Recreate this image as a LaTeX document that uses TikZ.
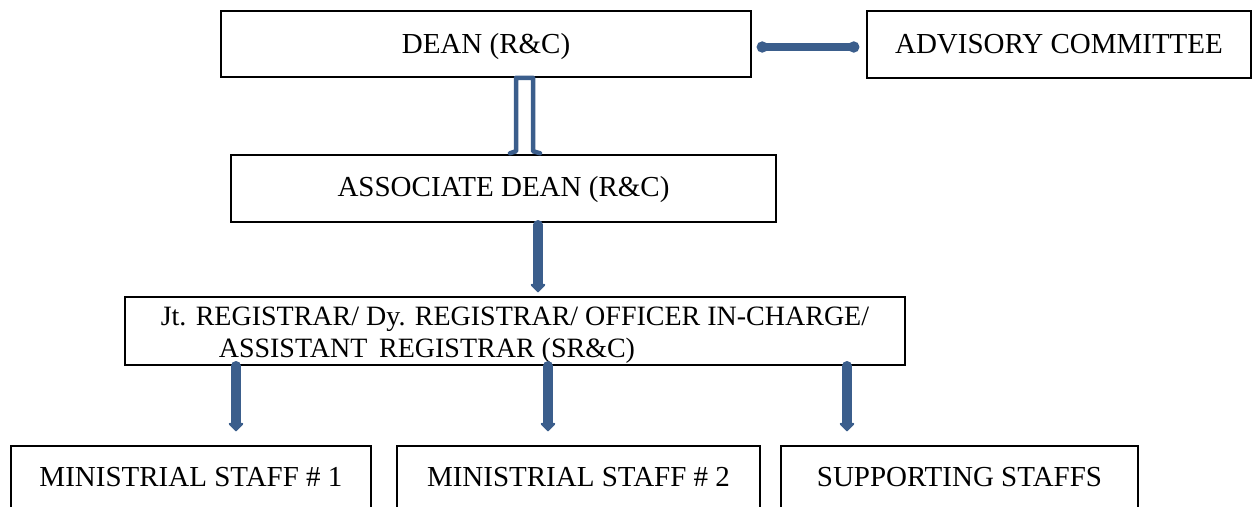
\documentclass[tikz,border=0pt]{standalone}
\usepackage{fontspec}
\setmainfont{Liberation Serif}
\usetikzlibrary{arrows.meta,calc}
\definecolor{arrowblue}{HTML}{3B5E8C}
\newcommand{\lowerby}[2]{\raisebox{-#1}[\height][\depth]{#2}}
\begin{document}
\begin{tikzpicture}[x=1pt,y=-1pt,
  box/.style={draw=black, line width=1.5pt, inner sep=0pt, font=\fontsize{29}{34}\selectfont},
  conn/.style={draw=arrowblue, line width=9.5pt, line cap=round, -{Triangle[width=17pt,length=9pt,round]}},
  biconn/.style={draw=arrowblue, line width=8pt, {Circle[length=11pt]}-{Circle[length=11pt]}},
  hollow/.style={draw=arrowblue, line width=4.5pt, line join=round, line cap=round}]
\useasboundingbox (0,0) rectangle (1252,506);
\node[box, minimum width=530pt, minimum height=66pt] (dean) at (486,44) {\lowerby{3pt}{DEAN (R\&C)}};
\node[box, minimum width=384pt, minimum height=67pt] (adv) at (1059,44.5) {ADVISORY COMMITTEE};
\node[box, minimum width=545pt, minimum height=67pt] (assoc) at (503.5,188.5) {\lowerby{1pt}{ASSOCIATE DEAN (R\&C)}};
\node[box, minimum width=780pt, minimum height=68pt, align=left, font=\fontsize{28}{32}\selectfont] (reg) at (515,331)
  {\lowerby{4pt}{Jt. REGISTRAR/ Dy. REGISTRAR/ OFFICER IN-CHARGE/}\\\hspace*{58pt}\lowerby{4pt}{ASSISTANT\, REGISTRAR (SR\&C)}};
\node[box, minimum width=360pt, minimum height=62pt] (ms1) at (191,477) {MINISTRIAL STAFF \# 1};
\node[box, minimum width=363pt, minimum height=62pt] (ms2) at (578.5,477) {MINISTRIAL STAFF \# 2};
\node[box, minimum width=357pt, minimum height=62pt] (sup) at (959.5,477) {SUPPORTING STAFFS};
% double-headed connector
\draw[biconn, shorten <=5pt, shorten >=7pt] (dean.east |- 0,47) -- (adv.west |- 0,47);
% hollow connector dean -> associate
\draw[hollow] ($(516,0 |- assoc.north)+(-6,-1)$) -- ($(516,0 |- assoc.north)+(0,-3)$)
  -- (516,0 |- dean.south) -- (533,0 |- dean.south)
  -- ($(533,0 |- assoc.north)+(0,-3)$) -- ($(533,0 |- assoc.north)+(7,-1)$);
% solid connectors
\draw[conn, shorten <=2pt, shorten >=4pt] (538,0 |- assoc.south) -- (538,0 |- reg.north);
\draw[conn, shorten >=14pt] (236,0 |- reg.south) -- (236,0 |- ms1.north);
\draw[conn, shorten >=14pt] (548,0 |- reg.south) -- (548,0 |- ms2.north);
\draw[conn, shorten >=14pt] (847,0 |- reg.south) -- (847,0 |- sup.north);
\end{tikzpicture}
\end{document}
